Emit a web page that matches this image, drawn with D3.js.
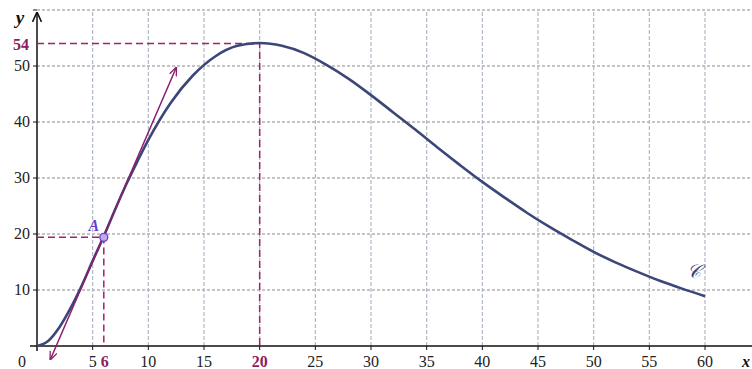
<!DOCTYPE html>
<html>
<head>
<meta charset="utf-8">
<script src="https://cdn.jsdelivr.net/npm/d3@7"></script>
<style>
  body { margin: 0; background: #fff; }
</style>
</head>
<body>
<div class="chart"></div>
<script>
// curve C
const curveX = [0, 1, 2, 3, 4, 5, 6, 7, 8, 9, 10, 12, 14, 16, 18, 20, 22, 24, 26, 28, 30,
                32, 34, 36, 38, 40, 42, 44, 46, 48, 50, 52, 54, 56, 58, 60];
const curveY = [0, 0.9, 3.3, 6.7, 10.7, 15.2, 19.6, 24.3, 28.8, 32.9, 36.8, 43.4, 48.3, 51.7, 53.6, 54.1, 53.6, 52.3, 50.2, 47.7, 44.8,
                41.7, 38.6, 35.4, 32.3, 29.3, 26.5, 23.8, 21.3, 19.0, 16.8, 14.9, 13.2, 11.6, 10.2, 8.9];
// tangent at A
const tangentX = [1.2, 12.5];
const tangentY = [-2.4, 49.7];
const pointA = [6, 19.4];
const maxPoint = [20, 54];
const xTicks = [5, 10, 15, 25, 30, 35, 40, 45, 50, 55, 60];
const yTicks = [10, 20, 30, 40, 50];
const xGrid = [5, 10, 15, 20, 25, 30, 35, 40, 45, 50, 55, 60];
const yGrid = [10, 20, 30, 40, 50, 60];

const W = 752, H = 369;
const svg = d3.select(".chart").append("svg").attr("width", W).attr("height", H)
    .style("display", "block")
    .attr("font-family", "'Liberation Serif', 'DejaVu Serif', serif");

const x = d3.scaleLinear().domain([0, 60]).range([37, 705]);
const y = d3.scaleLinear().domain([0, 60]).range([346, 10]);

const defs = svg.append("defs");
defs.append("marker").attr("id", "tan-arrow")
    .attr("viewBox", "0 0 10 10").attr("refX", 9).attr("refY", 5)
    .attr("markerWidth", 9).attr("markerHeight", 9).attr("orient", "auto-start-reverse")
    .attr("markerUnits", "userSpaceOnUse")
    .append("path").attr("d", "M0,1 L10,5 L0,9").attr("fill", "none")
    .attr("stroke", "#8c1d6e").attr("stroke-width", 1.4);
defs.append("marker").attr("id", "axis-arrow")
    .attr("viewBox", "0 0 10 10").attr("refX", 9).attr("refY", 5)
    .attr("markerWidth", 10).attr("markerHeight", 10).attr("orient", "auto")
    .attr("markerUnits", "userSpaceOnUse")
    .append("path").attr("d", "M0,0.5 L10,5 L0,9.5").attr("fill", "none")
    .attr("stroke", "#111").attr("stroke-width", 1.6);

// grid
svg.append("g").selectAll("line").data(yGrid).join("line")
    .attr("x1", x(0)).attr("x2", W)
    .attr("y1", d => y(d)).attr("y2", d => y(d))
    .attr("stroke", "#8a8a8a").attr("stroke-width", 1).attr("stroke-dasharray", "3,2");
svg.append("g").selectAll("line").data(xGrid).join("line")
    .attr("x1", d => x(d)).attr("x2", d => x(d))
    .attr("y1", y(0)).attr("y2", y(60))
    .attr("stroke", "#b0b8c6").attr("stroke-width", 1.2).attr("stroke-dasharray", "4,2");

// axes
svg.append("line").attr("x1", 30).attr("x2", W).attr("y1", y(0)).attr("y2", y(0))
    .attr("stroke", "#111").attr("stroke-width", 1.5);
svg.append("line").attr("x1", x(0)).attr("x2", x(0)).attr("y1", 351).attr("y2", 13)
    .attr("stroke", "#111").attr("stroke-width", 1.5).attr("marker-end", "url(#axis-arrow)");

svg.append("g").selectAll("line").data(xGrid).join("line")
    .attr("x1", d => x(d)).attr("x2", d => x(d))
    .attr("y1", y(0)).attr("y2", y(0) + 4).attr("stroke", "#111");
svg.append("g").selectAll("line").data(yGrid).join("line")
    .attr("x1", x(0) - 4).attr("x2", x(0))
    .attr("y1", d => y(d)).attr("y2", d => y(d)).attr("stroke", "#111");

svg.append("g").selectAll("text").data(xTicks).join("text")
    .attr("x", d => x(d)).attr("y", 367).attr("text-anchor", "middle")
    .attr("font-size", 16).attr("fill", "#222").text(d => d);
svg.append("g").selectAll("text").data(yTicks).join("text")
    .attr("x", 30).attr("y", d => y(d) + 5).attr("text-anchor", "end")
    .attr("font-size", 16).attr("fill", "#222").text(d => d);
svg.append("text").attr("x", 22).attr("y", 367).attr("text-anchor", "middle")
    .attr("font-size", 16).attr("fill", "#222").text("0");
svg.append("text").attr("x", 20).attr("y", 24).attr("text-anchor", "middle")
    .attr("font-size", 19).attr("font-style", "italic").attr("font-weight", "bold")
    .attr("fill", "#111").text("y");
svg.append("text").attr("x", 742).attr("y", 367)
    .attr("font-size", 16).attr("font-style", "italic").attr("font-weight", "bold")
    .attr("fill", "#111").text("x");

// dashed guides
const guide = "#a3216f";
svg.append("path")
    .attr("d", `M${x(0)},${y(maxPoint[1])}H${x(maxPoint[0])}V${y(0)}`)
    .attr("fill", "none").attr("stroke", guide).attr("stroke-width", 1.5).attr("stroke-dasharray", "7,4");
svg.append("path")
    .attr("d", `M${x(0)},${y(pointA[1])}H${x(pointA[0])}V${y(0)}`)
    .attr("fill", "none").attr("stroke", guide).attr("stroke-width", 1.5).attr("stroke-dasharray", "7,4");

svg.append("text").attr("x", 29).attr("y", y(maxPoint[1]) + 6).attr("text-anchor", "end")
    .attr("font-size", 16).attr("font-weight", "bold").attr("fill", "#8c1d5e").text(maxPoint[1]);
svg.append("text").attr("x", x(maxPoint[0])).attr("y", 367).attr("text-anchor", "middle")
    .attr("font-size", 16).attr("font-weight", "bold").attr("fill", "#8c1d5e").text(maxPoint[0]);
svg.append("text").attr("x", x(pointA[0]) + 1).attr("y", 367).attr("text-anchor", "middle")
    .attr("font-size", 16).attr("font-weight", "bold").attr("fill", "#8c1d5e").text(pointA[0]);

// curve
const line = d3.line().x(d => x(d[0])).y(d => y(d[1])).curve(d3.curveMonotoneX);
svg.append("path").datum(d3.zip(curveX, curveY))
    .attr("d", line).attr("fill", "none")
    .attr("stroke", "#3c4678").attr("stroke-width", 2.6);

// tangent
svg.append("path").datum(d3.zip(tangentX, tangentY))
    .attr("d", d3.line().x(d => x(d[0])).y(d => y(d[1])))
    .attr("fill", "none").attr("stroke", "#8c1d6e").attr("stroke-width", 1.5)
    .attr("marker-start", "url(#tan-arrow)").attr("marker-end", "url(#tan-arrow)");

// point A
svg.append("circle").attr("cx", x(pointA[0])).attr("cy", y(pointA[1])).attr("r", 4)
    .attr("fill", "#c3a8f0").attr("stroke", "#6a3fc8").attr("stroke-width", 1.3);
svg.append("text").attr("x", x(pointA[0]) - 10).attr("y", y(pointA[1]) - 6)
    .attr("text-anchor", "middle").attr("font-size", 16).attr("font-style", "italic")
    .attr("font-weight", "bold").attr("fill", "#6a3fc8").text("A");

svg.append("text").attr("x", 694).attr("y", 278).attr("text-anchor", "middle")
    .attr("font-size", 19).attr("font-style", "italic").attr("fill", "#3c4678")
    .text("𝒞");
</script>
</body>
</html>
